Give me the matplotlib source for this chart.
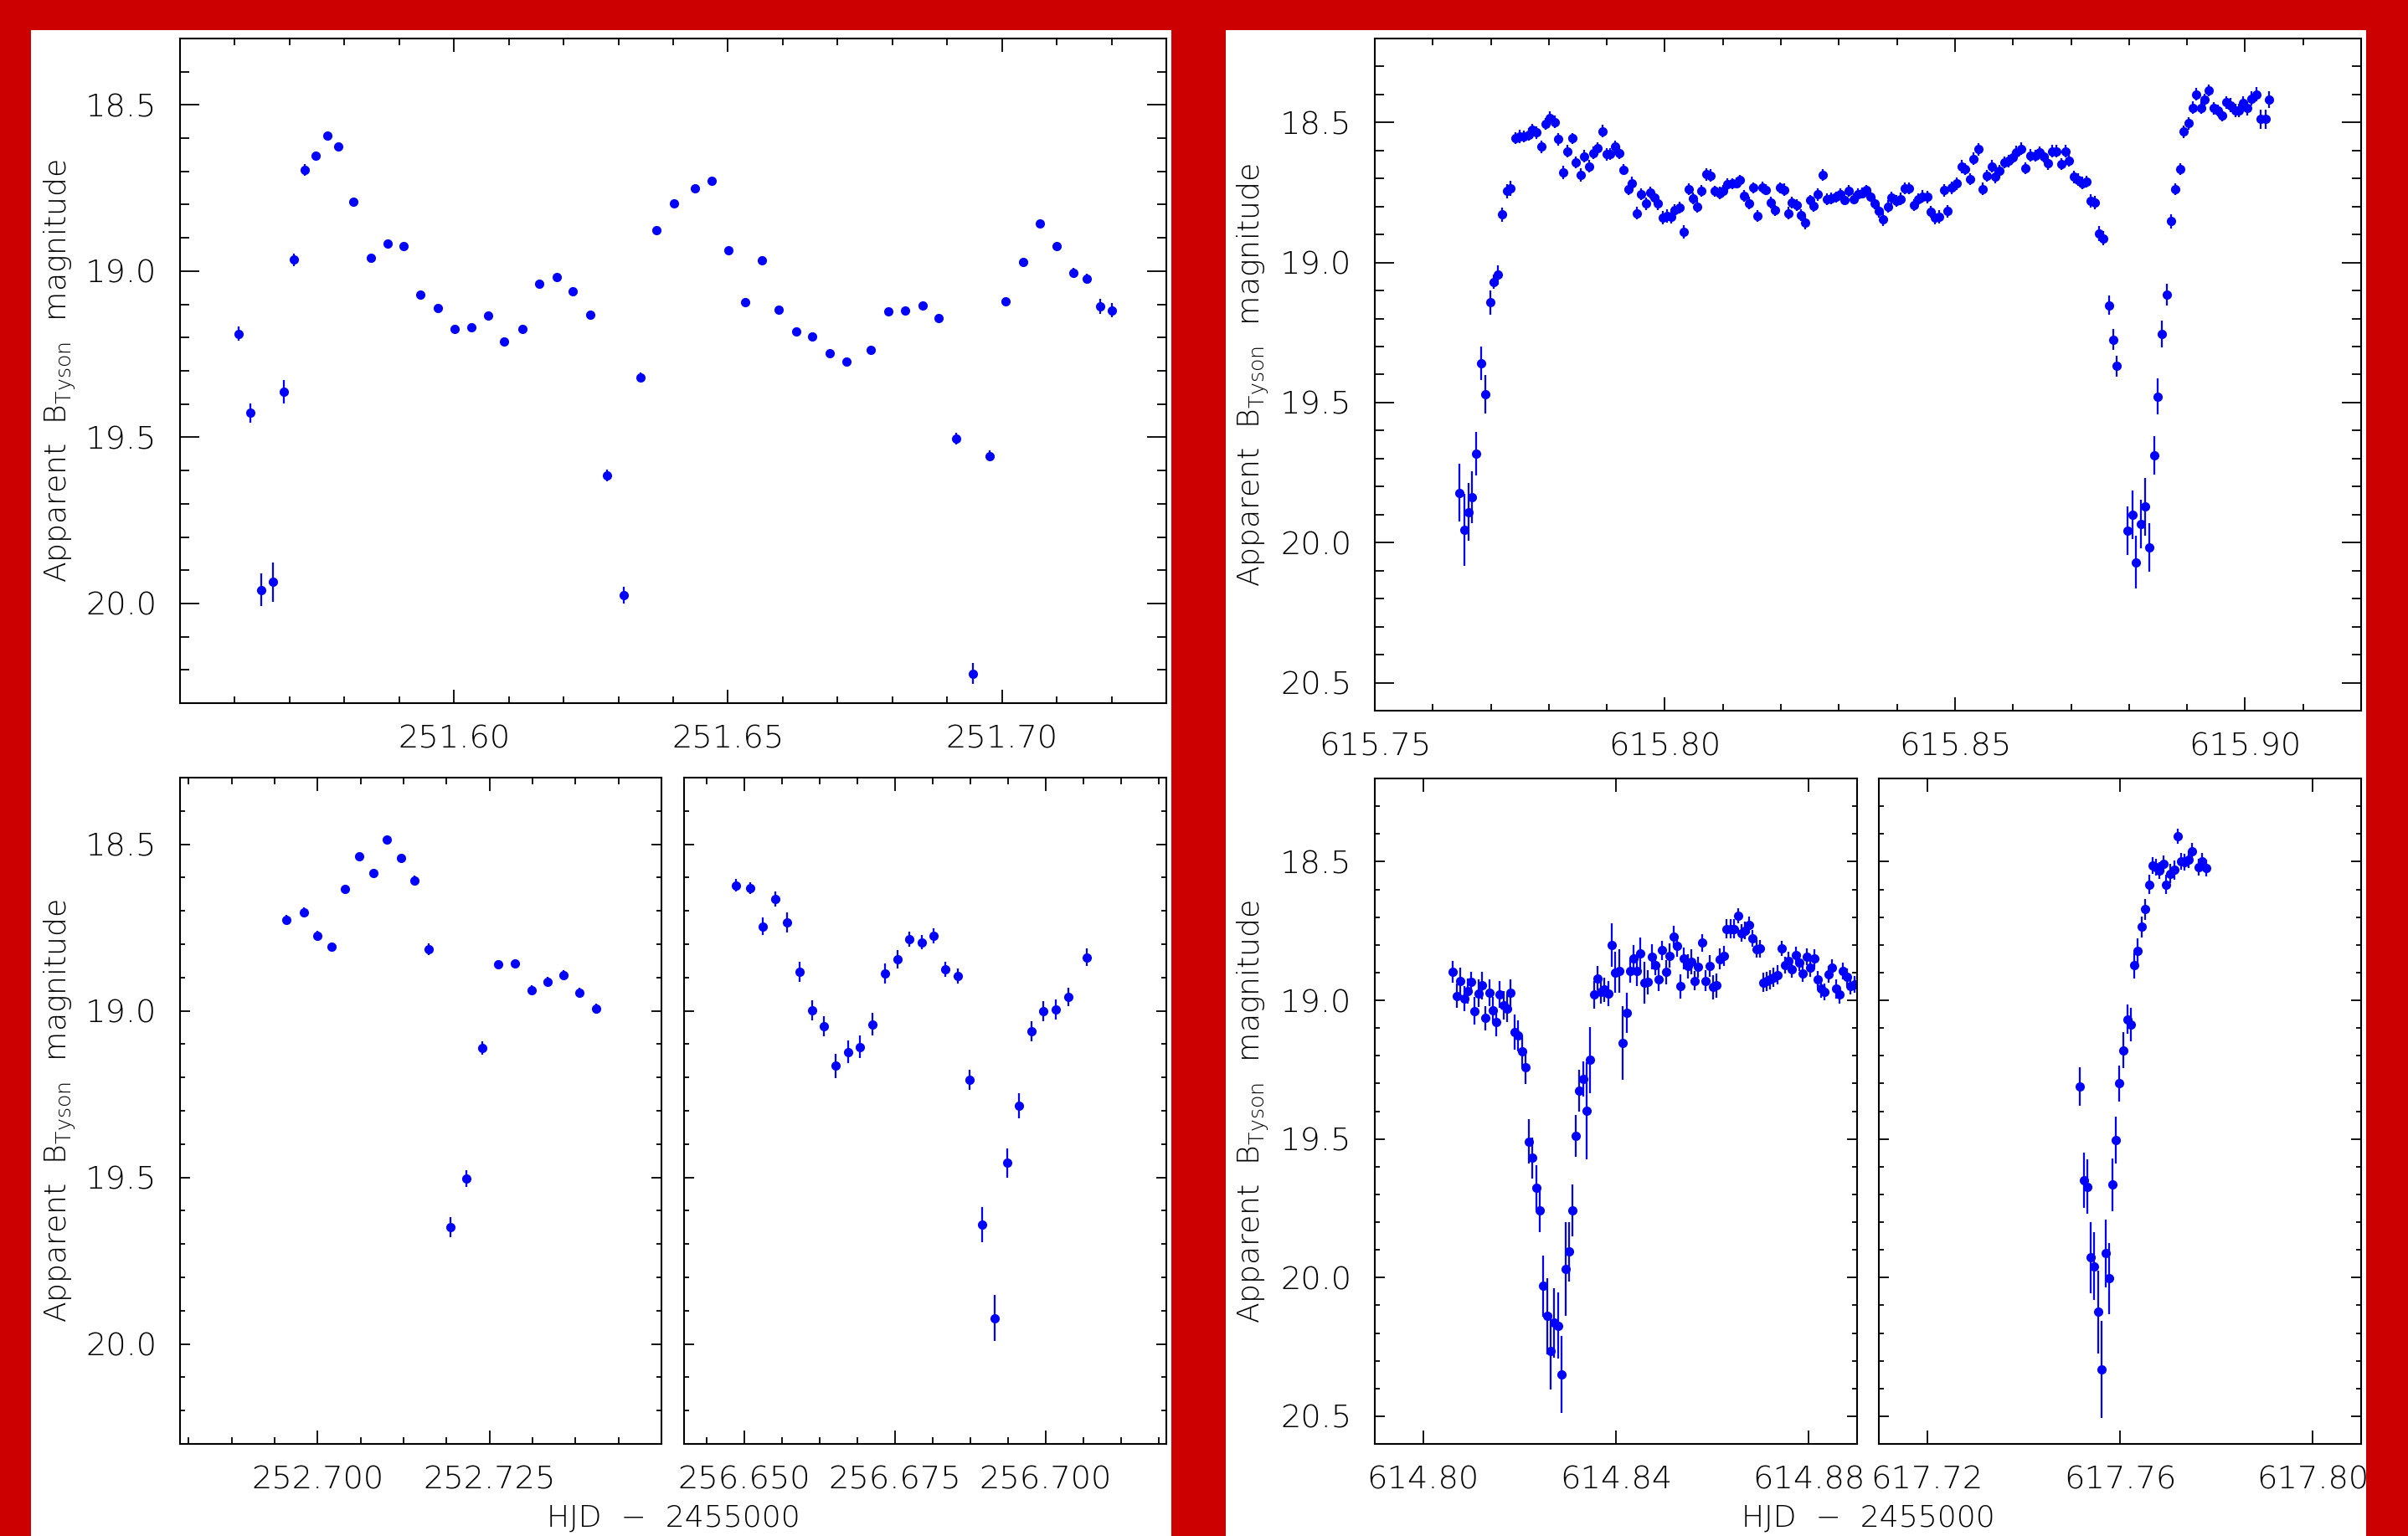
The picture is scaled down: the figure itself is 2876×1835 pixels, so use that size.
# Eclipse light curves, four nights in B_Tyson

import matplotlib
matplotlib.use("Agg")
import matplotlib.pyplot as plt
from matplotlib.ticker import MultipleLocator, FormatStrFormatter
from matplotlib.patches import Rectangle

# Night 251 (HJD - 2455000)
t251 = [251.5607, 251.5628, 251.5648, 251.5669, 251.5689, 251.5708, 251.5728, 251.5748, 251.5769, 251.5789,
        251.5817, 251.5848, 251.5879, 251.5908, 251.5939, 251.5970, 251.6001, 251.6032, 251.6062, 251.6092,
        251.6125, 251.6156, 251.6187, 251.6217, 251.6248, 251.6279, 251.6310, 251.6341, 251.6370, 251.6401,
        251.6439, 251.6470, 251.6501, 251.6531, 251.6562, 251.6593, 251.6624, 251.6654, 251.6685, 251.6716,
        251.6761, 251.6792, 251.6824, 251.6855, 251.6885, 251.6916, 251.6947, 251.6977, 251.7007, 251.7038,
        251.7069, 251.7100, 251.7131, 251.7155, 251.7179, 251.7201]
mag251 = [19.188, 19.427, 19.959, 19.936, 19.363, 18.966, 18.695, 18.652, 18.593, 18.626,
          18.792, 18.961, 18.917, 18.924, 19.071, 19.110, 19.174, 19.170, 19.135, 19.213,
          19.174, 19.037, 19.018, 19.061, 19.131, 19.615, 19.975, 19.319, 18.876, 18.796,
          18.752, 18.727, 18.938, 19.094, 18.967, 19.115, 19.181, 19.197, 19.246, 19.272,
          19.236, 19.122, 19.118, 19.103, 19.141, 19.504, 20.211, 19.556, 19.090, 18.973,
          18.856, 18.924, 19.005, 19.022, 19.106, 19.118]
err251 = [0.022, 0.030, 0.050, 0.058, 0.035, 0.018, 0.018, 0.012, 0.012, 0.012,
          0.012, 0.012, 0.012, 0.012, 0.012, 0.012, 0.012, 0.012, 0.012, 0.012,
          0.012, 0.012, 0.012, 0.012, 0.012, 0.018, 0.026, 0.015, 0.012, 0.012,
          0.012, 0.012, 0.012, 0.012, 0.012, 0.012, 0.012, 0.012, 0.012, 0.012,
          0.012, 0.012, 0.012, 0.012, 0.012, 0.017, 0.032, 0.017, 0.012, 0.012,
          0.012, 0.012, 0.015, 0.015, 0.022, 0.022]

# Night 252
t252 = [252.6955, 252.6980, 252.7000, 252.7020, 252.7040, 252.7061, 252.7081, 252.7101, 252.7121, 252.7141,
        252.7161, 252.7193, 252.7216, 252.7240, 252.7263, 252.7287, 252.7311, 252.7334, 252.7358, 252.7381,
        252.7405]
mag252 = [18.727, 18.704, 18.775, 18.808, 18.635, 18.535, 18.587, 18.487, 18.542, 18.608,
          18.815, 19.649, 19.504, 19.111, 18.860, 18.859, 18.937, 18.914, 18.892, 18.946,
          18.994]
err252 = [0.015, 0.015, 0.015, 0.012, 0.012, 0.012, 0.012, 0.012, 0.012, 0.015,
          0.018, 0.030, 0.025, 0.020, 0.012, 0.012, 0.015, 0.015, 0.015, 0.015,
          0.015]

# Night 256
t256 = [256.6486, 256.6510, 256.6531, 256.6551, 256.6571, 256.6591, 256.6612, 256.6632, 256.6651, 256.6672,
        256.6692, 256.6713, 256.6733, 256.6754, 256.6774, 256.6794, 256.6814, 256.6833, 256.6854, 256.6873,
        256.6894, 256.6915, 256.6936, 256.6956, 256.6977, 256.6996, 256.7017, 256.7037, 256.7068]
mag256 = [18.623, 18.632, 18.746, 18.664, 18.734, 18.884, 18.998, 19.046, 19.165, 19.123,
          19.108, 19.040, 18.889, 18.845, 18.785, 18.794, 18.775, 18.875, 18.895, 19.207,
          19.642, 19.922, 19.457, 19.285, 19.061, 19.000, 18.997, 18.958, 18.839]
err256 = [0.018, 0.018, 0.027, 0.022, 0.030, 0.030, 0.030, 0.030, 0.037, 0.033,
          0.033, 0.033, 0.030, 0.027, 0.022, 0.022, 0.022, 0.022, 0.022, 0.030,
          0.052, 0.068, 0.045, 0.037, 0.030, 0.030, 0.030, 0.027, 0.027]

# Night 615 (two eclipses)
t615 = [615.7646, 615.7654, 615.7661, 615.7668, 615.7675, 615.7683, 615.7691, 615.7699, 615.7705, 615.7712,
        615.7720, 615.7728, 615.7734, 615.7742,
        615.7750, 615.7757, 615.7765, 615.7771, 615.7779, 615.7787, 615.7794, 615.7802, 615.7810, 615.7816,
        615.7824, 615.7832, 615.7840, 615.7847, 615.7855, 615.7861, 615.7869, 615.7876, 615.7884, 615.7892,
        615.7900, 615.7906, 615.7914, 615.7922, 615.7929, 615.7937, 615.7943, 615.7951, 615.7959, 615.7967,
        615.7975, 615.7982, 615.7988, 615.7997, 615.8004, 615.8011, 615.8017, 615.8025, 615.8033, 615.8041,
        615.8049, 615.8055, 615.8063, 615.8071, 615.8078, 615.8086, 615.8094, 615.8100, 615.8108, 615.8116,
        615.8123, 615.8129, 615.8137, 615.8145, 615.8153, 615.8160, 615.8168, 615.8174, 615.8182, 615.8190,
        615.8198, 615.8205, 615.8213, 615.8219, 615.8227, 615.8235, 615.8242, 615.8250, 615.8256, 615.8264,
        615.8272, 615.8280, 615.8287, 615.8295, 615.8302, 615.8309, 615.8317, 615.8325, 615.8333, 615.8340,
        615.8347, 615.8354, 615.8361, 615.8369, 615.8376, 615.8384, 615.8391, 615.8399, 615.8407, 615.8413,
        615.8421, 615.8429, 615.8436, 615.8444, 615.8452, 615.8458, 615.8466, 615.8473, 615.8481, 615.8487,
        615.8495, 615.8503, 615.8511, 615.8518, 615.8526, 615.8532, 615.8540, 615.8547, 615.8555, 615.8563,
        615.8569, 615.8577, 615.8585, 615.8592, 615.8600, 615.8606, 615.8614, 615.8622, 615.8630, 615.8638,
        615.8646, 615.8653, 615.8660, 615.8667, 615.8675, 615.8683, 615.8690, 615.8697, 615.8705, 615.8712,
        615.8720, 615.8727, 615.8734, 615.8741, 615.8749, 615.8756,
        615.8765, 615.8773, 615.8779, 615.8798, 615.8806, 615.8812, 615.8820, 615.8827, 615.8835, 615.8843,
        615.8849, 615.8857, 615.8865, 615.8872, 615.8880, 615.8888, 615.8894, 615.8902, 615.8910, 615.8916,
        615.8924, 615.8930, 615.8938, 615.8946, 615.8953, 615.8960, 615.8967, 615.8975, 615.8983, 615.8990,
        615.8997, 615.9004, 615.9011, 615.9019, 615.9027, 615.9035, 615.9041]
mag615 = [19.822, 19.955, 19.891, 19.838, 19.682, 19.359, 19.471, 19.142, 19.069, 19.044,
          18.829, 18.745, 18.735, 18.557,
          18.551, 18.550, 18.543, 18.527, 18.536, 18.586, 18.505, 18.483, 18.498, 18.560,
          18.677, 18.603, 18.557, 18.642, 18.687, 18.620, 18.656, 18.608, 18.591, 18.531,
          18.613, 18.613, 18.587, 18.608, 18.668, 18.737, 18.716, 18.824, 18.756, 18.790,
          18.750, 18.769, 18.790, 18.840, 18.834, 18.838, 18.814, 18.804, 18.891, 18.738,
          18.771, 18.800, 18.744, 18.685, 18.689, 18.745, 18.752, 18.744, 18.720, 18.718,
          18.716, 18.706, 18.762, 18.788, 18.733, 18.834, 18.732, 18.740, 18.786, 18.814,
          18.733, 18.740, 18.824, 18.786, 18.795, 18.831, 18.857, 18.778, 18.797, 18.757,
          18.687, 18.774, 18.771, 18.766, 18.756, 18.776, 18.744, 18.773, 18.756, 18.752,
          18.742, 18.764, 18.788, 18.817, 18.845, 18.800, 18.769, 18.780, 18.773, 18.735,
          18.735, 18.795, 18.774, 18.764, 18.766, 18.819, 18.840, 18.836, 18.742, 18.817,
          18.733, 18.718, 18.658, 18.666, 18.702, 18.629, 18.596, 18.737, 18.690, 18.656,
          18.694, 18.673, 18.642, 18.637, 18.624, 18.606, 18.594, 18.663, 18.617, 18.618,
          18.605, 18.622, 18.646, 18.603, 18.603, 18.648, 18.603, 18.636, 18.694, 18.704,
          18.716, 18.711, 18.780, 18.786, 18.896, 18.913,
          19.152, 19.275, 19.370, 19.958, 19.901, 20.070, 19.934, 19.872, 20.018, 19.689,
          19.478, 19.255, 19.114, 18.853, 18.738, 18.666, 18.533, 18.503, 18.447, 18.399,
          18.447, 18.419, 18.385, 18.449, 18.457, 18.475, 18.428, 18.438, 18.457, 18.457,
          18.430, 18.449, 18.414, 18.399, 18.488, 18.488, 18.418]
err615 = [0.103, 0.129, 0.103, 0.094, 0.077, 0.060, 0.069, 0.043, 0.026, 0.034,
          0.026, 0.026, 0.026, 0.021,
          0.024, 0.022, 0.022, 0.022, 0.022, 0.022, 0.020, 0.022, 0.022, 0.022,
          0.024, 0.022, 0.020, 0.022, 0.024, 0.022, 0.022, 0.022, 0.020, 0.022,
          0.022, 0.020, 0.022, 0.022, 0.020, 0.022, 0.022, 0.022, 0.022, 0.022,
          0.020, 0.022, 0.022, 0.024, 0.024, 0.022, 0.022, 0.022, 0.024, 0.020,
          0.022, 0.022, 0.022, 0.022, 0.022, 0.020, 0.022, 0.020, 0.020, 0.020,
          0.020, 0.020, 0.020, 0.022, 0.020, 0.022, 0.020, 0.020, 0.022, 0.020,
          0.020, 0.022, 0.022, 0.022, 0.022, 0.022, 0.024, 0.020, 0.022, 0.022,
          0.022, 0.020, 0.020, 0.020, 0.020, 0.020, 0.020, 0.020, 0.020, 0.020,
          0.020, 0.020, 0.022, 0.022, 0.024, 0.022, 0.022, 0.022, 0.022, 0.022,
          0.022, 0.022, 0.022, 0.022, 0.022, 0.022, 0.024, 0.024, 0.022, 0.022,
          0.022, 0.022, 0.024, 0.022, 0.022, 0.022, 0.022, 0.022, 0.022, 0.022,
          0.022, 0.022, 0.022, 0.022, 0.022, 0.022, 0.022, 0.020, 0.022, 0.020,
          0.020, 0.020, 0.022, 0.022, 0.022, 0.022, 0.022, 0.022, 0.022, 0.022,
          0.022, 0.022, 0.024, 0.024, 0.026, 0.026,
          0.034, 0.038, 0.038, 0.086, 0.086, 0.094, 0.086, 0.103, 0.086, 0.069,
          0.065, 0.048, 0.038, 0.026, 0.022, 0.022, 0.022, 0.022, 0.022, 0.022,
          0.022, 0.022, 0.022, 0.022, 0.022, 0.022, 0.022, 0.025, 0.025, 0.025,
          0.025, 0.025, 0.025, 0.025, 0.034, 0.034, 0.031]

# Night 614
t614 = [614.8062, 614.8070, 614.8077, 614.8085, 614.8092, 614.8100, 614.8107, 614.8115, 614.8122, 614.8130,
        614.8137, 614.8145, 614.8152, 614.8159, 614.8167, 614.8175, 614.8182, 614.8190, 614.8197, 614.8205,
        614.8212, 614.8220, 614.8227, 614.8235, 614.8242, 614.8249, 614.8257, 614.8264, 614.8272, 614.8280,
        614.8287, 614.8295, 614.8302, 614.8310, 614.8317, 614.8324, 614.8332, 614.8339, 614.8347, 614.8354,
        614.8361, 614.8369, 614.8376, 614.8384, 614.8391, 614.8399, 614.8407, 614.8414, 614.8422, 614.8429,
        614.8436, 614.8444, 614.8451, 614.8459, 614.8466, 614.8474, 614.8481, 614.8489, 614.8496, 614.8504,
        614.8511, 614.8519, 614.8527, 614.8534, 614.8541, 614.8549, 614.8556, 614.8564, 614.8571, 614.8579,
        614.8586, 614.8594, 614.8601, 614.8609, 614.8616, 614.8624, 614.8629, 614.8637, 614.8645, 614.8653,
        614.8661, 614.8668, 614.8676, 614.8683, 614.8691, 614.8699, 614.8705, 614.8712, 614.8720, 614.8727,
        614.8735, 614.8743, 614.8750, 614.8758, 614.8765, 614.8774, 614.8781, 614.8788, 614.8796, 614.8803,
        614.8811, 614.8818, 614.8826, 614.8833, 614.8841, 614.8848, 614.8856, 614.8863, 614.8871, 614.8879,
        614.8886, 614.8894]
mag614 = [18.897, 18.984, 18.931, 18.994, 18.967, 18.934, 19.038, 18.975, 18.947, 19.064,
          18.972, 19.035, 19.079, 18.980, 19.018, 19.029, 18.974, 19.115, 19.127, 19.185,
          19.243, 19.509, 19.569, 19.677, 19.758, 20.030, 20.139, 20.266, 20.163, 20.173,
          20.350, 19.970, 19.906, 19.757, 19.489, 19.326, 19.283, 19.398, 19.215, 18.980,
          18.920, 18.969, 18.961, 18.976, 18.800, 18.899, 18.894, 19.154, 19.045, 18.894,
          18.850, 18.893, 18.831, 18.937, 18.934, 18.843, 18.872, 18.924, 18.820, 18.898,
          18.839, 18.771, 18.805, 18.950, 18.849, 18.877, 18.861, 18.930, 18.880, 18.793,
          18.930, 18.876, 18.952, 18.946, 18.851, 18.840, 18.742, 18.742, 18.742, 18.695,
          18.757, 18.748, 18.728, 18.777, 18.815, 18.814, 18.936, 18.932, 18.926, 18.917,
          18.909, 18.813, 18.873, 18.857, 18.888, 18.838, 18.863, 18.903, 18.843, 18.883,
          18.848, 18.925, 18.959, 18.970, 18.907, 18.882, 18.959, 18.980, 18.895, 18.915,
          18.949, 18.942]
err614 = [0.040, 0.044, 0.048, 0.044, 0.044, 0.038, 0.050, 0.050, 0.050, 0.044,
          0.048, 0.048, 0.050, 0.048, 0.050, 0.050, 0.048, 0.063, 0.056, 0.056,
          0.060, 0.081, 0.075, 0.081, 0.078, 0.110, 0.138, 0.138, 0.125, 0.119,
          0.138, 0.169, 0.107, 0.094, 0.075, 0.075, 0.063, 0.175, 0.119, 0.050,
          0.044, 0.044, 0.044, 0.044, 0.078, 0.073, 0.078, 0.132, 0.073, 0.044,
          0.048, 0.056, 0.056, 0.075, 0.044, 0.044, 0.038, 0.044, 0.035, 0.044,
          0.044, 0.040, 0.038, 0.044, 0.038, 0.044, 0.044, 0.035, 0.038, 0.031,
          0.038, 0.040, 0.044, 0.044, 0.038, 0.035, 0.035, 0.035, 0.035, 0.028,
          0.031, 0.031, 0.031, 0.031, 0.031, 0.031, 0.035, 0.035, 0.035, 0.035,
          0.035, 0.028, 0.031, 0.031, 0.031, 0.031, 0.031, 0.031, 0.031, 0.031,
          0.031, 0.031, 0.031, 0.031, 0.031, 0.031, 0.035, 0.031, 0.031, 0.031,
          0.031, 0.031]

# Night 617
t617 = [617.7517, 617.7525, 617.7532, 617.7540, 617.7547, 617.7555, 617.7562, 617.7570, 617.7578, 617.7585,
        617.7592, 617.7599, 617.7607, 617.7615, 617.7622, 617.7630, 617.7637, 617.7645, 617.7652, 617.7660,
        617.7667, 617.7675, 617.7682, 617.7690, 617.7696, 617.7704, 617.7712, 617.7719, 617.7726, 617.7734,
        617.7742, 617.7749, 617.7764, 617.7771, 617.7779]
mag617 = [19.311, 19.649, 19.672, 19.928, 19.959, 20.124, 20.331, 19.912, 20.003, 19.665,
          19.504, 19.300, 19.181, 19.068, 19.088, 18.874, 18.823, 18.735, 18.672, 18.582,
          18.514, 18.519, 18.532, 18.508, 18.582, 18.543, 18.530, 18.408, 18.499, 18.503,
          18.492, 18.462, 18.520, 18.499, 18.524]
err617 = [0.070, 0.101, 0.097, 0.128, 0.122, 0.149, 0.176, 0.122, 0.128, 0.095,
          0.085, 0.065, 0.065, 0.054, 0.061, 0.047, 0.047, 0.038, 0.038, 0.034,
          0.030, 0.030, 0.030, 0.030, 0.034, 0.034, 0.034, 0.027, 0.030, 0.030,
          0.030, 0.030, 0.030, 0.030, 0.030]

YLABEL = "Apparent  B$_{\\rm Tyson}$  magnitude"
XLABEL = "HJD  \u2212  2455000"

W, H = 2876, 1835
DPI = 100

plt.rcParams["font.family"] = "DejaVu Sans"
plt.rcParams["font.weight"] = 200
plt.rcParams["axes.labelweight"] = 200
plt.rcParams["mathtext.fontset"] = "dejavusans"

fig = plt.figure(figsize=(W / DPI, H / DPI), dpi=DPI, facecolor="#cc0000")


def px_box(left, top, right, bottom):
    # pixel box -> figure fraction
    return [left / W, 1 - bottom / H, (right - left) / W, (bottom - top) / H]


# white paper behind each half
for x0, x1 in [(37, 1399), (1464, 2826)]:
    fig.add_artist(Rectangle((x0 / W, 0), (x1 - x0) / W, 1 - 36 / H,
                             transform=fig.transFigure, facecolor="white",
                             edgecolor="none", zorder=0))


def light_curve(box, t, mag, err, xlim, ylim, xticks, xfmt, xminor, ylen, label_x=None):
    ax = fig.add_axes(px_box(*box))
    ax.errorbar(t, mag, yerr=err, fmt="o", color="#0000ff", ms=8, mew=0,
                elinewidth=1.6, capsize=0)
    ax.set_xlim(*xlim)
    ax.set_ylim(*ylim)
    ax.set_xticks(xticks)
    ax.xaxis.set_major_formatter(FormatStrFormatter(xfmt))
    if xminor:
        ax.xaxis.set_minor_locator(MultipleLocator(xminor))
    ax.yaxis.set_major_locator(MultipleLocator(0.5))
    ax.yaxis.set_minor_locator(MultipleLocator(0.1))
    ax.yaxis.set_major_formatter(FormatStrFormatter("%.1f"))
    ax.tick_params(which="both", direction="in", top=True, right=True,
                   width=1.3, labelsize=27.5, colors="black")
    ax.tick_params(axis="x", which="major", length=11.5, pad=18)
    ax.tick_params(axis="x", which="minor", length=5.8)
    ax.tick_params(axis="y", which="major", length=ylen, pad=20)
    ax.tick_params(axis="y", which="minor", length=ylen / 2)
    for s in ax.spines.values():
        s.set_linewidth(1.5)
    if label_x is None:
        ax.tick_params(axis="y", labelleft=False)
    else:
        ax.set_ylabel(YLABEL, fontsize=26, va="center")
        ax.yaxis.set_label_coords(label_x, 0.5)
    return ax


# top left
light_curve((215, 46, 1393, 840), t251, mag251, err251, (251.55, 251.73), (20.3, 18.3),
            [251.60, 251.65, 251.70], "%.2f", 0.01, 16.5, label_x=(72 - 215) / 1178)
# top right
light_curve((1642, 46, 2820, 849), t615, mag615, err615, (615.75, 615.92), (20.6, 18.2),
            [615.75, 615.80, 615.85, 615.90], "%.2f", 0.01, 16.5, label_x=(1497 - 1642) / 1178)
# bottom left pair
light_curve((215, 929, 790, 1725), t252, mag252, err252, (252.68, 252.75), (20.3, 18.3),
            [252.700, 252.725], "%.3f", 0.00625, 8.6, label_x=(72 - 215) / 575)
light_curve((817, 929, 1393, 1725), t256, mag256, err256, (256.64, 256.72), (20.3, 18.3),
            [256.650, 256.675, 256.700], "%.3f", 0.00625, 8.6)
# bottom right pair
light_curve((1642, 930, 2218, 1725), t614, mag614, err614, (614.79, 614.89), (20.6, 18.2),
            [614.80, 614.84, 614.88], "%.2f", None, 8.6, label_x=(1497 - 1642) / 576)
light_curve((2244, 930, 2820, 1725), t617, mag617, err617, (617.71, 617.81), (20.6, 18.2),
            [617.72, 617.76, 617.80], "%.2f", None, 8.6)

# shared x titles along the bottom edge
fig.text((215 + 1393) / 2 / W, 1 - 1797 / H, XLABEL, ha="center", va="top", fontsize=26)
fig.text((1642 + 2820) / 2 / W, 1 - 1797 / H, XLABEL, ha="center", va="top", fontsize=26)

fig.savefig("out.png", dpi=DPI, facecolor=fig.get_facecolor())
